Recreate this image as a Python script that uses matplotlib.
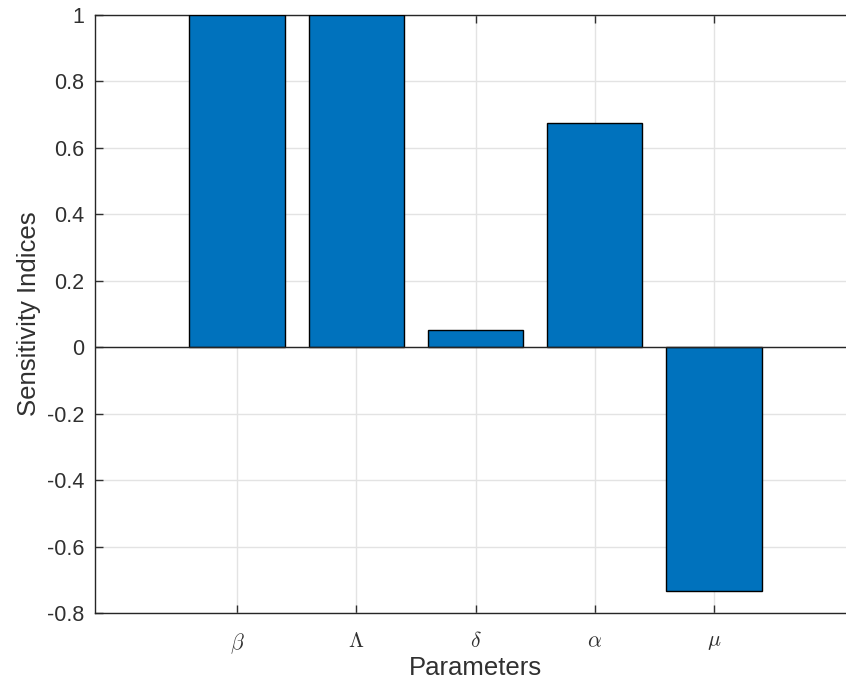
import matplotlib
matplotlib.use("Agg")
import matplotlib.pyplot as plt

# ----- data -----
params = [r'$\beta$', r'$\Lambda$', r'$\delta$', r'$\alpha$', r'$\mu$']
indices = [1.0, 1.0, 0.053, 0.674, -0.735]

plt.rcParams['font.family'] = ['Liberation Sans', 'DejaVu Sans']
plt.rcParams['mathtext.fontset'] = 'cm'

W, H = 846, 686
fig = plt.figure(figsize=(W / 100, H / 100), dpi=100)
# axes runs past the right edge, like the cropped original
ax = fig.add_axes([95 / W, 1 - 613 / H, (856 - 95) / W, (613 - 15) / H])

pos = list(range(1, len(params) + 1))
ax.bar(pos, indices, width=0.8, color='#0072BD', edgecolor='black',
       linewidth=1.0, zorder=3)
ax.axhline(0, color='#262626', linewidth=1.0, zorder=4)

ax.set_xlim(-0.19, 6.19)
ax.set_ylim(-0.8, 1.0)
ax.set_yticks([-0.8, -0.6, -0.4, -0.2, 0, 0.2, 0.4, 0.6, 0.8, 1])
ax.set_yticklabels(['-0.8', '-0.6', '-0.4', '-0.2', '0', '0.2', '0.4', '0.6', '0.8', '1'])
ax.set_xticks(pos)
ax.set_xticklabels(params, fontsize=15, color='#404040')

ax.grid(True, color='#e3e3e3', linewidth=1.0, zorder=0)
ax.set_axisbelow(True)
ax.tick_params(direction='in', length=6, width=1.0, colors='#303030',
               top=True, right=True, labelsize=15.5, pad=8)
ax.tick_params(axis='x', pad=13)
for s in ax.spines.values():
    s.set_color('#262626')
    s.set_linewidth(1.0)

ax.set_xlabel('Parameters', fontsize=18.5, color='#303030', labelpad=0)
ax.set_ylabel('Sensitivity Indices', fontsize=18.5, color='#303030', labelpad=4)

fig.savefig('out.png', dpi=100, facecolor='white')
